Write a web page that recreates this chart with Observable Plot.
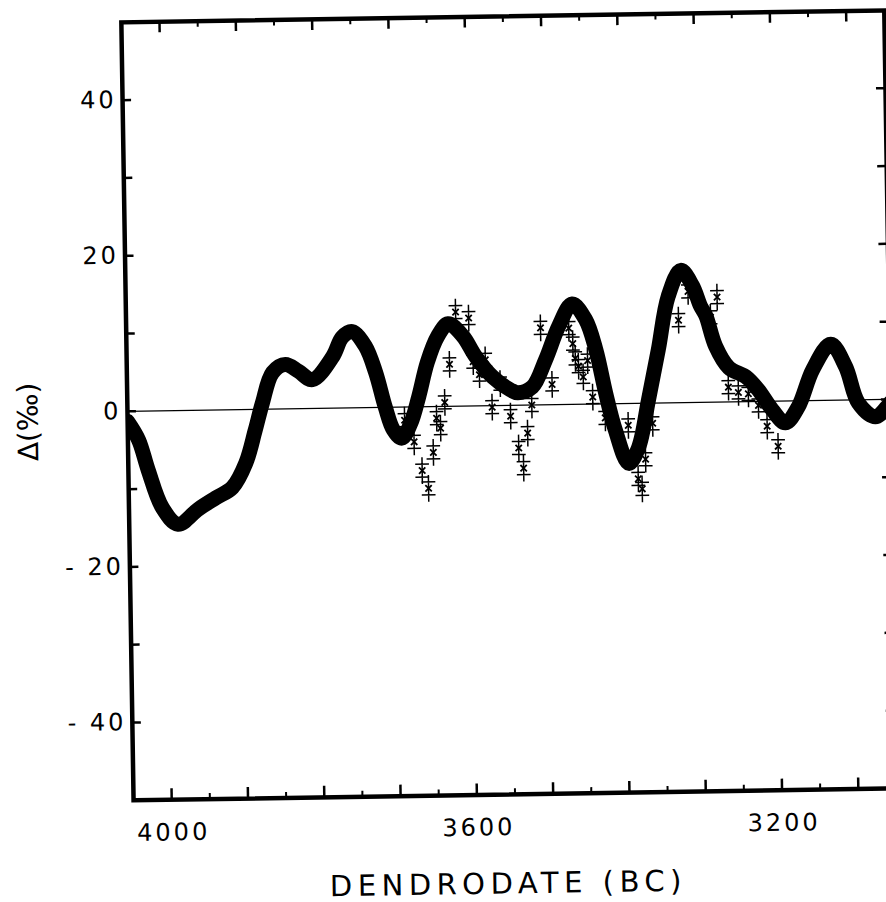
<!DOCTYPE html>
<html><head><meta charset="utf-8">
<script src="https://cdn.jsdelivr.net/npm/d3@7"></script>
<script src="https://cdn.jsdelivr.net/npm/@observablehq/plot@0.6"></script>
<style>
html,body{margin:0;padding:0;background:#fff;overflow:hidden;}
#wrap{width:886px;height:902px;overflow:hidden;position:relative;background:#fff;}
#chart{position:absolute;left:0;top:0;width:900px;height:902px;transform:rotate(-0.9deg);transform-origin:500px 411px;}
</style></head><body><div id="wrap"><div id="chart"></div></div>
<script>
// Smoothed curve (dendro-year BC, Δ ‰)
const curveYears = [4050,4036,4024,4006,3986,3959,3936,3914,3896,3883,3873,3859,3842,3825,3807,3780,3767,3754,3737,3724,3712,3702,3691,3679,3668,3656,3642,3628,3609,3593,3571,3548,3538,3519,3501,3483,3465,3448,3435,3423,3411,3394,3381,3367,3353,3339,3322,3307,3297,3290,3278,3261,3239,3223,3205,3188,3171,3151,3127,3108,3092,3070,3055,3050];
const curveDelta = [-1.3,-3.7,-7.6,-12.5,-14.6,-12.7,-11.3,-10.0,-6.9,-2.7,0.8,4.7,5.7,4.8,3.7,6.6,9.1,9.8,7.9,4.5,0.0,-2.9,-4.0,-2.1,1.3,5.7,9.0,10.6,9.0,6.4,3.7,2.0,1.6,2.3,5.8,10.1,12.9,10.9,7.0,1.4,-3.4,-7.7,-5.7,0.4,6.9,13.7,17.0,15.0,12.4,11.1,7.2,4.4,3.2,1.5,-1.1,-2.8,-0.8,4.0,7.2,4.3,-0.4,-2.2,-1.0,-0.4];

// Individual measurements
const measYears = [3687,3675,3665,3657,3650,3645,3640,3634,3627,3618,3601,3596,3588,3580,3572,3561,3548,3538,3532,3526,3520,3507,3493,3470,3465,3462,3458,3452,3446,3440,3424,3394,3382,3377,3372,3362,3326,3313,3284,3275,3262,3249,3236,3223,3212,3198];
const measDelta = [-1.7,-4.5,-8.2,-10.5,-5.9,-1.5,-2.8,0.5,5.4,12.1,11.3,5.7,4.0,5.9,-0.2,2.8,-1.4,-5.5,-8.1,-3.6,0.0,9.9,2.6,9.8,7.8,5.9,4.9,3.5,5.6,0.9,-1.8,-2.8,-9.7,-11.0,-7.2,-2.6,10.6,14.3,10.9,13.5,1.9,1.2,1.0,-0.5,-3.2,-5.8];

// Axis ticks and labels
const xMajor = [4000,3900,3800,3700,3600,3500,3400,3300,3200,3100];
const xMinor = [3950,3850,3750,3650,3550,3450,3350,3250,3150];
const xLabels = [4000,3600,3200];
const yTicks = [-40,-30,-20,-10,0,10,20,30,40];
const yLabels = [-40,-20,0,20,40];
const xTitle = "DENDRODATE (BC)";
const yTitle = "Δ(‰)";

const curve = curveYears.map((y, i) => ({year: y, delta: curveDelta[i]}));
const meas = measYears.map((y, i) => ({year: y, delta: measDelta[i]}));

const plot = Plot.plot({
  width: 900, height: 902,
  marginLeft: 127, marginRight: 10, marginTop: 16, marginBottom: 108,
  x: {domain: [4050, 3050], axis: null},
  y: {domain: [-50, 50], axis: null},
  style: {fontFamily: "DejaVu Sans", background: "white", color: "black", overflow: "visible"},
  marks: [
    Plot.ruleY([0], {stroke: "black", strokeWidth: 1.3}),
    Plot.line(curve, {x: "year", y: "delta", stroke: "black", strokeWidth: 15, curve: "catmull-rom", clip: true}),
    Plot.dot(meas, {x: "year", y: "delta", symbol: "plus", r: 4.5, dy: -6.5, stroke: "black", strokeWidth: 1.5}),
    Plot.dot(meas, {x: "year", y: "delta", symbol: "plus", r: 4.5, dy: 6.5, stroke: "black", strokeWidth: 1.5}),
    Plot.dot(meas, {x: "year", y: "delta", symbol: "times", r: 3, stroke: "black", strokeWidth: 1.8}),
    Plot.ruleX(xMajor, {x: d => d, y1: -50, y2: -50, insetTop: -11, stroke: "black", strokeWidth: 2.5}),
    Plot.ruleX(xMinor, {x: d => d, y1: -50, y2: -50, insetTop: -5.5, stroke: "black", strokeWidth: 2}),
    Plot.ruleX(xMajor, {x: d => d, y1: 50, y2: 50, insetBottom: -11, stroke: "black", strokeWidth: 2.5}),
    Plot.ruleX(xMinor, {x: d => d, y1: 50, y2: 50, insetBottom: -6, stroke: "black", strokeWidth: 2}),
    Plot.ruleY(yTicks, {y: d => d, x1: 4050, x2: 4050, insetRight: -9, stroke: "black", strokeWidth: 2.5}),
    Plot.ruleY(yTicks, {y: d => d, x1: 3050, x2: 3050, insetLeft: -9, stroke: "black", strokeWidth: 2.5}),
    Plot.frame({stroke: "black", strokeWidth: 4.5}),
    Plot.text(xLabels, {x: d => d, y: -50, dy: 33, dx: 1.5, text: d => String(d), fontSize: 24, fill: "black"}),
    Plot.text(yLabels, {x: 4050, y: d => d, dx: -6, textAnchor: "end", text: d => d < 0 ? "- " + Math.abs(d) : String(d), fontSize: 24, fill: "black"}),
    Plot.text([xTitle], {frameAnchor: "bottom", dy: 99, dx: -8, textAnchor: "middle", text: d => d, fontSize: 29, fill: "black"}),
    Plot.text([yTitle], {frameAnchor: "left", dx: -99, dy: 9, textAnchor: "middle", rotate: -90, text: d => d, fontSize: 28, fill: "black"})
  ]
});
document.getElementById("chart").appendChild(plot);
d3.select(plot).selectAll("text").each(function () {
  const t = this.textContent;
  if (t === xTitle) this.style.letterSpacing = "5.5px";
  else if (t !== yTitle) this.style.letterSpacing = "3px";
});
</script></body></html>
